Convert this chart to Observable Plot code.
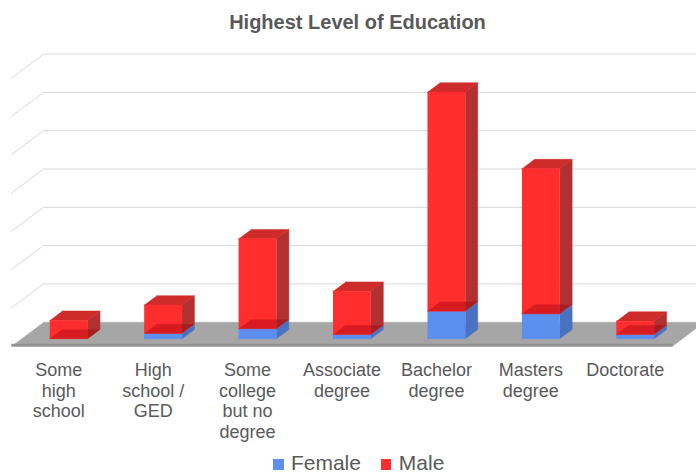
<!DOCTYPE html>
<html>
<head>
<meta charset="utf-8">
<script src="https://cdn.jsdelivr.net/npm/d3@7"></script>
<script src="https://cdn.jsdelivr.net/npm/@observablehq/plot@0.6"></script>
<style>
  html, body { margin: 0; padding: 0; background: #fff; overflow: hidden; }
  body { position: relative; width: 696px; height: 475px;
         font-family: "Liberation Sans", Arial, Helvetica, sans-serif; color: #595959; }
  #title { position: absolute; left: 19px; width: 677px; top: 12.4px; text-align: center;
           font-weight: bold; font-size: 20px; line-height: 20px; }
  #chart { position: absolute; left: 0; top: 40px; }
  #legend { position: absolute; left: 273px; top: 451.5px; font-size: 21px;
            line-height: 21px; white-space: nowrap; }
  .sw { display: inline-block; width: 10.5px; height: 10.5px; margin-right: 7.4px; }
</style>
</head>
<body>
<div id="title">Highest Level of Education</div>
<div id="chart"></div>
<div id="legend"></div>
<script>
// Education levels (category axis labels, line-broken as displayed)
const categories = [
  "Some\nhigh\nschool",
  "High\nschool /\nGED",
  "Some\ncollege\nbut no\ndegree",
  "Associate\ndegree",
  "Bachelor\ndegree",
  "Masters\ndegree",
  "Doctorate"
];
// Stacked series: female at the bottom, male on top
const female = [0, 1.4, 2.6, 1.1, 7.2, 6.5, 1.1];
const male   = [4.8, 7.4, 23.5, 11.3, 57.2, 37.9, 3.5];
const seriesNames = ["Female", "Male"];
// Back-wall gridline values
const gridTicks = [10, 20, 30, 40, 50, 60, 70];

// ---- layout of the oblique 3D box ----
const W = 696, H = 405;
const X0 = 43, SLOT = 94.43;        // back-wall left edge, width of one category slot (px)
const Y0 = 281.7, STEP = 38.3;      // back-wall baseline, px per gridline step
const DEPTH_X = -32, DEPTH_Y = 24;  // floor depth vector, back -> front (px)
const yMax = 70;
const n = categories.length;
const BAR_L = 0.3, BAR_R = 0.7;     // bar extent within a slot
const T_FRONT = 0.69, T_BACK = 0.30; // bar depth within the floor

const ux = 1 / SLOT;        // slot units per px
const uy = 10 / STEP;       // value units per px
// point at slot position s, value v and depth t (0 = back wall, 1 = front edge)
const P = (s, v, t) => ({x: s + t * DEPTH_X * ux, y: v - t * DEPTH_Y * uy});

const faces = [];
let fid = 0;
function face(kind, pts) {
  const id = fid++;
  pts.forEach(p => faces.push({id, kind, x: p.x, y: p.y}));
}

// floor slab
face("floor", [P(0, 0, 0), P(n, 0, 0), P(n, 0, 1), P(0, 0, 1)]);
const edge = 2.2 * uy;
face("floorEdge", [P(0, 0, 1), P(n, 0, 1), P(n, edge, 1), P(0, edge, 1)]);

// one stacked box per series segment
function box(prefix, i, v0, v1) {
  const sL = i + BAR_L, sR = i + BAR_R;
  face(prefix + "Side",  [P(sR, v0, T_FRONT), P(sR, v0, T_BACK), P(sR, v1, T_BACK), P(sR, v1, T_FRONT)]);
  face(prefix + "Top",   [P(sL, v1, T_FRONT), P(sR, v1, T_FRONT), P(sR, v1, T_BACK), P(sL, v1, T_BACK)]);
  face(prefix + "Front", [P(sL, v0, T_FRONT), P(sR, v0, T_FRONT), P(sR, v1, T_FRONT), P(sL, v1, T_FRONT)]);
  face(prefix + "Base",  [P(sL, v0, T_FRONT), P(sR, v0, T_FRONT), P(sR, v0, T_BACK), P(sL, v0, T_BACK)]);
}
categories.forEach((c, i) => {
  if (female[i] > 0) box("female", i, 0, female[i]);
  box("male", i, female[i], female[i] + male[i]);
});

// gridlines: side-wall diagonal, then along the back wall
const grid = [];
gridTicks.forEach(v => {
  [P(0, v, 1), P(0, v, 0), P(n + 0.2, v, 0)].forEach(p => grid.push({v, x: p.x, y: p.y}));
});

const poly = (kind, fill, extra = {}) =>
  Plot.line(faces.filter(d => d.kind === kind),
    {x: "x", y: "y", z: "id", fill, stroke: fill, strokeWidth: 0.5, ...extra});

const colors = {Female: "#5b8ff0", Male: "#ff2d2d"};

const chart = Plot.plot({
  width: W,
  height: H,
  x: {domain: [0, n], range: [X0, X0 + SLOT * n], axis: null},
  y: {domain: [0, yMax], range: [Y0, Y0 - STEP * yMax / 10], axis: null},
  style: {fontFamily: "'Liberation Sans', Arial, Helvetica, sans-serif", background: "white"},
  marks: [
    Plot.line(grid, {x: "x", y: "y", z: "v", stroke: "#d9d9d9", strokeWidth: 1}),
    poly("floor", "#a6a6a6"),
    poly("floorEdge", "#929292"),
    poly("femaleSide", "#4a72c2"),
    poly("femaleTop", "#6f9ef2"),
    poly("femaleFront", colors.Female),
    poly("maleSide", "#b2302f"),
    poly("maleTop", "#cf2b2b"),
    poly("maleFront", colors.Male),
    Plot.line(faces.filter(d => d.kind === "maleBase"),
      {x: "x", y: "y", z: "id", fill: "#9a0010", fillOpacity: 0.4, stroke: "none"}),
    Plot.text(categories, {
      x: (d, i) => i + 0.5 + DEPTH_X * ux,
      y: () => -DEPTH_Y * uy,
      dy: 15,
      text: d => d,
      lineAnchor: "top",
      lineHeight: 1.15,
      fontSize: 18,
      fill: "#595959"
    })
  ]
});
document.getElementById("chart").appendChild(chart);

// legend
const legend = document.getElementById("legend");
seriesNames.forEach((name, i) => {
  const sw = document.createElement("span");
  sw.className = "sw";
  sw.style.background = colors[name];
  if (i > 0) sw.style.marginLeft = "20px";
  legend.appendChild(sw);
  legend.appendChild(document.createTextNode(name));
});
</script>
</body>
</html>
